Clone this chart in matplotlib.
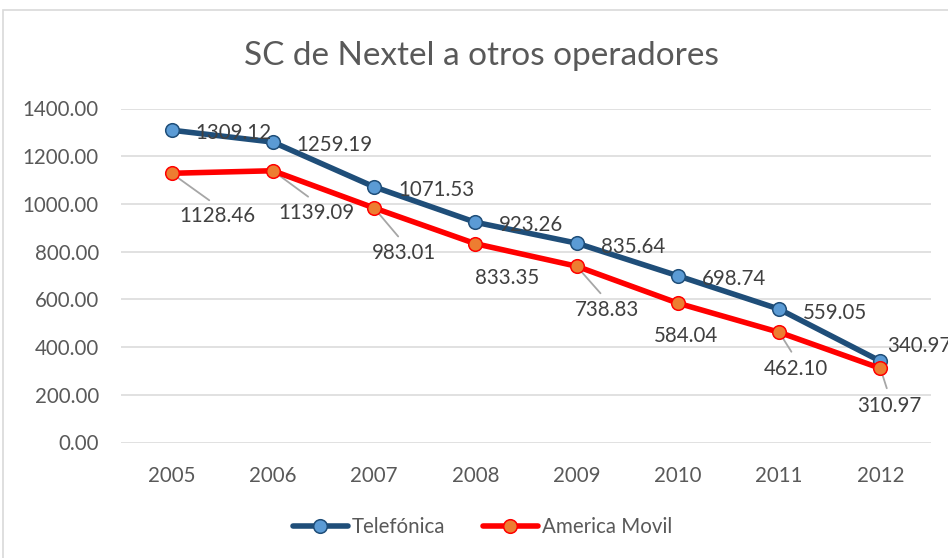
import matplotlib
matplotlib.use("Agg")
import matplotlib.pyplot as plt
from matplotlib.patches import Rectangle

plt.rcParams['font.family'] = ['Lato', 'DejaVu Sans']

years = ['2005', '2006', '2007', '2008', '2009', '2010', '2011', '2012']
telefonica = [1309.12, 1259.19, 1071.53, 923.26, 835.64, 698.74, 559.05, 340.97]
america_movil = [1128.46, 1139.09, 983.01, 833.35, 738.83, 584.04, 462.10, 310.97]
yticks = [0, 200, 400, 600, 800, 1000, 1200, 1400]

W, H = 948, 558
fig = plt.figure(figsize=(W / 100, H / 100), dpi=100)
ax = fig.add_axes([121 / W, (H - 442.5) / H, (931 - 121) / W, 334 / H])

x = list(range(len(years)))
blue_line = '#1F4E79'
ax.plot(x, telefonica, color=blue_line, lw=4.0, marker='o', ms=9.8,
        mfc='#5B9BD5', mec=blue_line, mew=1.1, label='Telefónica', zorder=3,
        solid_capstyle='round')
ax.plot(x, america_movil, color='#FF0000', lw=4.0, marker='o', ms=9.8,
        mfc='#ED7D31', mec='#FF0000', mew=1.1, label='America Movil', zorder=3,
        solid_capstyle='round')

ax.set_xlim(-0.5, len(years) - 0.5)
ax.set_ylim(0, 1400)
ax.set_xticks(x)
ax.set_xticklabels(years)
ax.set_yticks(yticks)
ax.set_yticklabels([f'{v:.2f}' for v in yticks])
ax.grid(axis='y', color='#D9D9D9', lw=1.1)
ax.grid(axis='x', visible=False)
ax.set_axisbelow(True)
for s in ax.spines.values():
    s.set_visible(False)
ax.tick_params(axis='both', length=0, labelsize=14.8, labelcolor='#595959')
ax.tick_params(axis='y', pad=16)
ax.tick_params(axis='x', pad=17)

lab_col = '#404040'
# Telefonica labels: right of the point
tel_off = [(24, -9), (24, -9), (24, -9), (24, -9), (24, -9.5), (24, -9.5), (24, -9.5), (7, 9)]
for i, v in enumerate(telefonica):
    ax.annotate(f'{v:.2f}', (i, v), xytext=tel_off[i], textcoords='offset pixels',
                ha='left', va='baseline', fontsize=14.8, color=lab_col,
                annotation_clip=False, zorder=4)

# America Movil labels: below-right, some with leader lines
am_off = [(46, -49), (43.5, -48), (30, -51.5), (32, -40), (30, -50), (8.5, -38.5), (17, -43), (9, -44)]
leaders = {0, 1, 2, 4, 6, 7}
for i, v in enumerate(america_movil):
    kw = {}
    if i in leaders:
        kw['arrowprops'] = dict(arrowstyle='-', color='#A6A6A6', lw=1.3,
                                relpos=(0.5, 1.0), shrinkA=4, shrinkB=0)
    ax.annotate(f'{v:.2f}', (i, v), xytext=am_off[i], textcoords='offset pixels',
                ha='center', va='baseline', fontsize=14.8, color=lab_col,
                annotation_clip=False, zorder=2, **kw)

fig.text(481 / W, (H - 65) / H, 'SC de Nextel a otros operadores', ha='center',
         va='baseline', fontsize=24, color='#595959')

fig.legend(loc='center', bbox_to_anchor=(482.5 / W, 1 - 527 / H), ncol=2,
           frameon=False, fontsize=14.8, labelcolor='#595959', handlelength=2.7,
           handletextpad=0.2, columnspacing=1.8)

fig.patches.append(Rectangle((3 / W, -0.05), 1.2, (H - 10) / H + 0.05,
                             transform=fig.transFigure, fill=False,
                             edgecolor='#D9D9D9', lw=1.2))

fig.savefig('out.png', dpi=100)
